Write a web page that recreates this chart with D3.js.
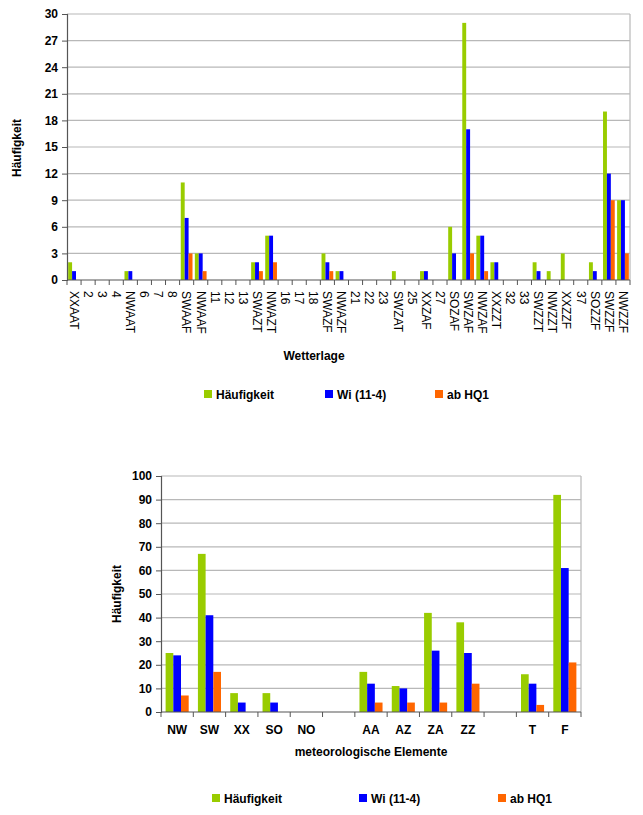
<!DOCTYPE html>
<html><head><meta charset="utf-8">
<script src="https://cdn.jsdelivr.net/npm/d3@7"></script>
<style>body{margin:0;background:#fff}svg{display:block;font-family:Arial,"Liberation Sans",sans-serif}</style>
</head><body>
<script>
// ---- data ----
const seriesNames = ["Häufigkeit", "Wi (11-4)", "ab HQ1"];
const seriesColors = ["#99cc00", "#0000ff", "#ff6600"];

const topCategories = ["XXAAT","2","3","4","NWAAT","6","7","8","SWAAF","NWAAF","11","12","13","SWAZT","NWAZT","16","17","18","SWAZF","NWAZF","21","22","23","SWZAT","25","XXZAF","27","SOZAF","SWZAF","NWZAF","XXZZT","32","33","SWZZT","NWZZT","XXZZF","37","SOZZF","SWZZF","NWZZF"];
const topHaeufigkeit = [2,0,0,0,1,0,0,0,11,3,0,0,0,2,5,0,0,0,3,1,0,0,0,1,0,1,0,6,29,5,2,0,0,2,1,3,0,2,19,9];
const topWinter      = [1,0,0,0,1,0,0,0,7,3,0,0,0,2,5,0,0,0,2,1,0,0,0,0,0,1,0,3,17,5,2,0,0,1,0,0,0,1,12,9];
const topHQ1         = [0,0,0,0,0,0,0,0,3,1,0,0,0,1,2,0,0,0,1,0,0,0,0,0,0,0,0,0,3,1,0,0,0,0,0,0,0,0,9,3];
const topYTicks = [0,3,6,9,12,15,18,21,24,27,30];

const botCategories = ["NW","SW","XX","SO","NO","","AA","AZ","ZA","ZZ"," ","T","F"];
const botHaeufigkeit = [25,67,8,8,0,0,17,11,42,38,0,16,92];
const botWinter      = [24,41,4,4,0,0,12,10,26,25,0,12,61];
const botHQ1         = [7,17,0,0,0,0,4,4,4,12,0,3,21];
const botYTicks = [0,10,20,30,40,50,60,70,80,90,100];

const W = 643, H = 815;
const svg = d3.select("body").append("svg").attr("width", W).attr("height", H);

function drawChart(cfg) {
  const {cats, series, yTicks, yMax, left, right, top, bottom, innerPad, xLabelFn, yTitle, yTitleX, yTitleY, xTitle, xTitleX, xTitleY, legendY, legendX} = cfg;
  const g = svg.append("g");
  const x0 = d3.scaleBand().domain(d3.range(cats.length)).range([left, right]).padding(0);
  const x1 = d3.scaleBand().domain(d3.range(3)).range([0, x0.bandwidth()]).paddingInner(0).paddingOuter(innerPad);
  const y = d3.scaleLinear().domain([0, yMax]).range([bottom, top]);

  // gridlines
  g.append("g").selectAll("line").data(yTicks.filter(t => t > 0)).join("line")
    .attr("x1", left).attr("x2", right).attr("y1", d => y(d)).attr("y2", d => y(d))
    .attr("stroke", "#b8b8b8").attr("stroke-width", 1.2);
  // right border
  g.append("line").attr("x1", right).attr("x2", right).attr("y1", top).attr("y2", bottom)
    .attr("stroke", "#b8b8b8").attr("stroke-width", 1.2);

  // bars
  cats.forEach((c, i) => {
    series.forEach((vals, s) => {
      const v = vals[i];
      if (v > 0) {
        g.append("rect")
          .attr("x", x0(i) + x1(s)).attr("width", x1.bandwidth())
          .attr("y", y(v)).attr("height", y(0) - y(v))
          .attr("fill", seriesColors[s]);
      }
    });
  });

  // y axis
  const yAxis = d3.axisLeft(y).tickValues(yTicks).tickSize(5).tickPadding(4);
  const ya = g.append("g").attr("transform", `translate(${left},0)`).call(yAxis);
  ya.select(".domain").attr("stroke", "#555").attr("stroke-width", 1.2);
  ya.selectAll(".tick line").attr("stroke", "#555");
  ya.selectAll("text").attr("font-size", 12).attr("font-weight", "bold").attr("fill", "#000")
    .attr("font-family", "Arial, 'Liberation Sans', sans-serif");

  // x axis line + ticks at category boundaries
  g.append("line").attr("x1", left).attr("x2", right).attr("y1", bottom).attr("y2", bottom)
    .attr("stroke", "#555").attr("stroke-width", 1.2);
  const bounds = d3.range(cats.length + 1).map(i => i < cats.length ? x0(i) : right);
  g.append("g").selectAll("line").data(bounds).join("line")
    .attr("x1", d => d).attr("x2", d => d).attr("y1", bottom).attr("y2", bottom + 5)
    .attr("stroke", "#555");

  xLabelFn(g, cats, x0, bottom);

  // y title
  g.append("text").attr("transform", `translate(${yTitleX},${yTitleY}) rotate(-90)`)
    .attr("text-anchor", "middle").attr("font-size", 12).attr("font-weight", "bold").text(yTitle);
  // x title
  g.append("text").attr("x", xTitleX).attr("y", xTitleY).attr("text-anchor", "middle")
    .attr("font-size", cfg.xTitleSize).attr("font-weight", "bold").text(xTitle);

  // legend
  seriesNames.forEach((n, s) => {
    g.append("rect").attr("x", legendX[s]).attr("y", legendY - 9).attr("width", 8).attr("height", 8)
      .attr("fill", seriesColors[s]);
    g.append("text").attr("x", legendX[s] + 12).attr("y", legendY).attr("font-size", 12)
      .attr("font-weight", "bold").text(n);
  });
}

drawChart({
  cats: topCategories, series: [topHaeufigkeit, topWinter, topHQ1], yTicks: topYTicks, yMax: 30,
  left: 67, right: 630, top: 14, bottom: 280, innerPad: 0.3,
  xLabelFn: (g, cats, x0, bottom) => {
    g.append("g").selectAll("text").data(cats).join("text")
      .attr("transform", (d, i) => `translate(${x0(i) + x0.bandwidth() / 2},${bottom + 11}) rotate(90)`)
      .attr("text-anchor", "start").attr("dy", "0.35em").attr("font-size", 12).text(d => d);
  },
  yTitle: "Häufigkeit", yTitleX: 21, yTitleY: 148, xTitle: "Wetterlage", xTitleX: 314, xTitleY: 360, xTitleSize: 12,
  legendY: 399, legendX: [204, 325, 435]
});

drawChart({
  cats: botCategories, series: [botHaeufigkeit, botWinter, botHQ1], yTicks: botYTicks, yMax: 100,
  left: 161, right: 581, top: 476, bottom: 712, innerPad: 0.6,
  xLabelFn: (g, cats, x0, bottom) => {
    g.append("g").selectAll("text").data(cats).join("text")
      .attr("x", (d, i) => x0(i) + x0.bandwidth() / 2).attr("y", bottom + 22)
      .attr("text-anchor", "middle").attr("font-size", 12).attr("font-weight", "bold").text(d => d.trim());
  },
  yTitle: "Häufigkeit", yTitleX: 121, yTitleY: 594, xTitle: "meteorologische Elemente", xTitleX: 371, xTitleY: 756, xTitleSize: 12,
  legendY: 803, legendX: [212, 359, 498]
});
</script>
</body></html>
